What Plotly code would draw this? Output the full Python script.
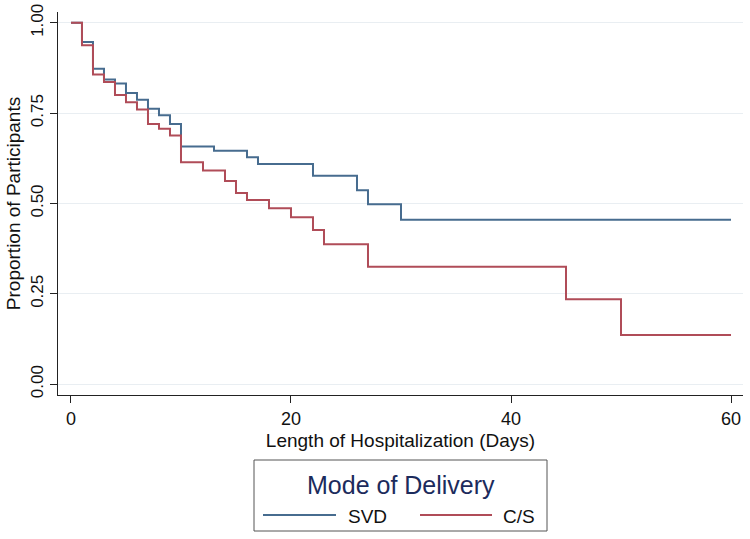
import plotly.graph_objects as go

# Kaplan-Meier style step data
svd_days = [0, 1, 2, 3, 4, 5, 6, 7, 8, 9, 10, 13, 16, 17, 22, 26, 27, 30, 60]
svd_prop = [1.0, 0.947, 0.873, 0.843, 0.832, 0.806, 0.787, 0.762, 0.744, 0.72,
            0.658, 0.646, 0.628, 0.609, 0.577, 0.537, 0.498, 0.455, 0.455]

cs_days = [0, 1, 2, 3, 4, 5, 6, 7, 8, 9, 10, 12, 14, 15, 16, 18, 20, 22, 23, 27, 45, 50, 60]
cs_prop = [1.0, 0.938, 0.857, 0.836, 0.80, 0.78, 0.76, 0.72, 0.707, 0.688, 0.614,
           0.591, 0.562, 0.529, 0.510, 0.487, 0.462, 0.427, 0.387, 0.325, 0.235,
           0.136, 0.136]

x_ticks = [0, 20, 40, 60]
y_ticks = [0.0, 0.25, 0.5, 0.75, 1.0]
y_tick_labels = ["0.00", "0.25", "0.50", "0.75", "1.00"]

names = ["SVD", "C/S"]
colors = ["#476c8f", "#b04c58"]

FONT = "Liberation Sans, Arial, sans-serif"

W, H = 750, 539

fig = go.Figure()
fig.add_trace(go.Scatter(x=svd_days, y=svd_prop, mode="lines", name=names[0],
                         line=dict(color=colors[0], width=2, shape="hv"),
                         showlegend=False))
fig.add_trace(go.Scatter(x=cs_days, y=cs_prop, mode="lines", name=names[1],
                         line=dict(color=colors[1], width=2, shape="hv"),
                         showlegend=False))

# plot area in reference pixels: x 58..743, y 12..395
L, R, T, B = 58, 743, 12, 395
def px(xp):
    return (xp - L) / (R - L)
def py(yp):
    return (B - yp) / (B - T)

shapes = [
    dict(type="rect", xref="paper", yref="paper", x0=px(254), x1=px(547),
         y0=py(531), y1=py(460), line=dict(color="#555555", width=1),
         fillcolor="white", layer="below"),
    dict(type="line", xref="paper", yref="paper", x0=px(263), x1=px(336),
         y0=py(515), y1=py(515), line=dict(color=colors[0], width=2)),
    dict(type="line", xref="paper", yref="paper", x0=px(420), x1=px(492),
         y0=py(515), y1=py(515), line=dict(color=colors[1], width=2)),
]

annotations = [
    dict(text="Mode of Delivery", xref="paper", yref="paper", x=px(401), y=py(485),
         xanchor="center", yanchor="middle", showarrow=False,
         font=dict(family=FONT, size=25, color="#1c2b5c")),
    dict(text=names[0], xref="paper", yref="paper", x=px(346), y=py(516),
         xanchor="left", yanchor="middle", showarrow=False,
         font=dict(family=FONT, size=19, color="#111111")),
    dict(text=names[1], xref="paper", yref="paper", x=px(501), y=py(516),
         xanchor="left", yanchor="middle", showarrow=False,
         font=dict(family=FONT, size=19, color="#111111")),
]

fig.update_layout(
    width=W, height=H,
    margin=dict(l=L, r=W - R, t=T, b=H - B),
    paper_bgcolor="white", plot_bgcolor="white",
    font=dict(family=FONT, size=18, color="#111111"),
    shapes=shapes, annotations=annotations,
    showlegend=False,
)
fig.update_xaxes(
    range=[-1.18, 61.09], tickvals=x_ticks, ticks="outside", ticklen=7,
    tickcolor="#222222", showline=True, linecolor="#222222", linewidth=1,
    showgrid=False, zeroline=False, tickfont=dict(size=18), automargin=False,
    ticklabeloverflow="allow",
    title=dict(text="Length of Hospitalization (Days)", font=dict(size=19), standoff=6),
)
fig.update_yaxes(
    range=[-0.03, 1.03], tickvals=y_ticks, ticktext=y_tick_labels, tickangle=-90,
    ticks="outside", ticklen=7, tickcolor="#222222", showline=True,
    linecolor="#222222", linewidth=1, showgrid=True, gridcolor="#e9eef2",
    gridwidth=1, zeroline=False, tickfont=dict(size=17), automargin=False,
    ticklabeloverflow="allow",
    title=dict(text="Proportion of Participants", font=dict(size=19), standoff=2),
)

fig.write_html(
    "out.html",
    config={"displayModeBar": False},
    post_script="document.body.style.margin='0px';document.body.style.overflow='hidden';",
)
